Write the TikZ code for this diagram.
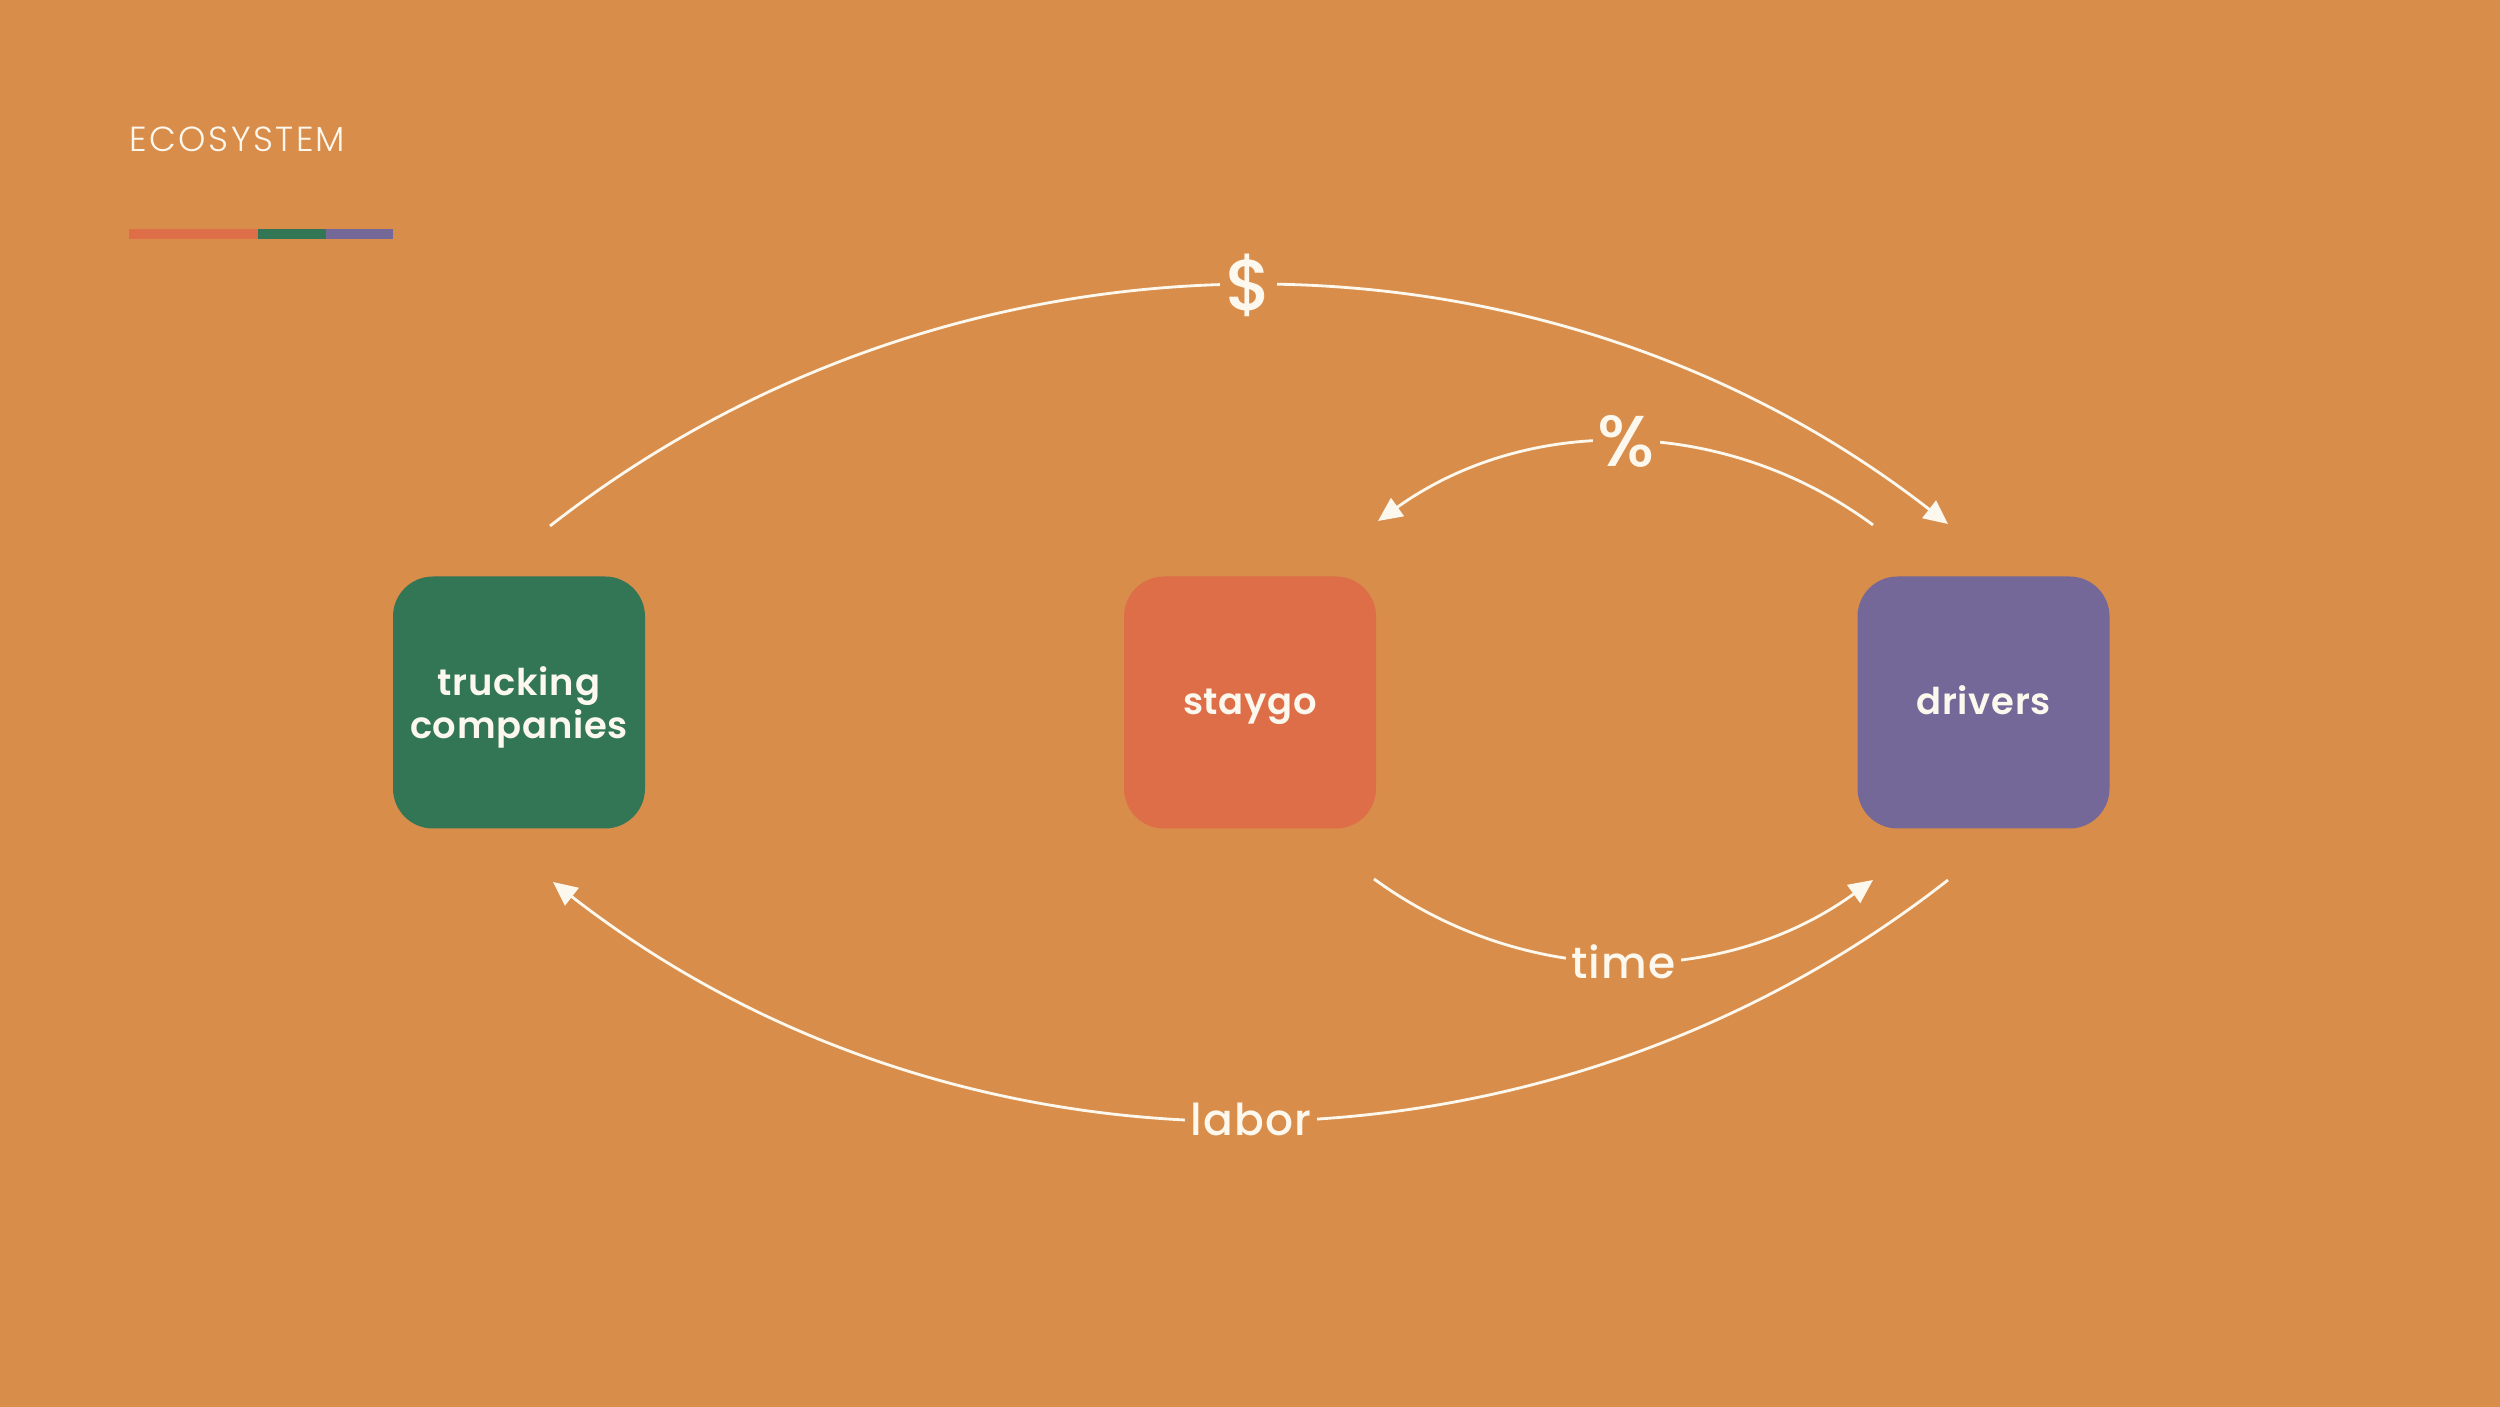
\documentclass[tikz,border=0pt]{standalone}
\usepackage{fontspec}
\usetikzlibrary{arrows.meta}

\newfontfamily\titlefont{Poppins Light}[LetterSpace=7]
\newfontfamily\boxfont{Poppins SemiBold}[LetterSpace=2]
\newfontfamily\arcfont{Poppins Medium}[LetterSpace=3]

\definecolor{bgorange}{HTML}{D98D4A}
\definecolor{truckgreen}{HTML}{327656}
\definecolor{staygored}{HTML}{DE6E48}
\definecolor{driverpurple}{HTML}{746898}
\definecolor{cream}{HTML}{FDF8EE}

\begin{document}
\begin{tikzpicture}
	[>={Triangle[length=0.24cm,width=0.22cm]},
	 box/.style={rounded corners=0.4cm, minimum size=2.52cm, inner sep=0pt, text=cream, align=center,
	   font=\boxfont\fontsize{10.5}{10.8}\selectfont},
	 oneline/.style={text height=7.5pt, text depth=0.7pt},
	 flow/.style={draw=cream, line width=0.8pt, looseness=0.95},
	 lbl/.style={fill=bgorange, text=cream, inner sep=0.05cm, font=\arcfont\fontsize{12.5}{12.5}\selectfont},
	 bigsym/.style={font=\arcfont\fontsize{20.5}{20.5}\selectfont}]
	\useasboundingbox (0,0) rectangle (25,-14.07);
	\fill[bgorange] (0,0) rectangle (25,-14.07);

	% heading and colour bar
	\node[anchor=base west, inner sep=0pt, text=cream, font=\titlefont\fontsize{9.9}{9.9}\selectfont] (title) at (1.29,-1.52) {ECOSYSTEM};
	\fill[staygored] (1.29,-2.29) rectangle (2.58,-2.39);
	\fill[truckgreen] (2.58,-2.29) rectangle (3.26,-2.39);
	\fill[driverpurple] (3.26,-2.29) rectangle (3.93,-2.39);

	\node[box, fill=truckgreen, text depth=0pt] (trucking) at (5.19,-7.025) {trucking\\companies};
	\node[box, oneline, fill=staygored] (staygo) at (12.5,-7.025) {staygo};
	\node[box, oneline, fill=driverpurple] (drivers) at (19.835,-7.025) {drivers};

	\coordinate (moneyA) at (5.50,-5.26);
	\coordinate (moneyB) at (19.48,-5.24);
	\coordinate (cutA) at (18.73,-5.25);
	\coordinate (cutB) at (13.78,-5.21);
	\coordinate (timeA) at (13.74,-8.79);
	\coordinate (timeB) at (18.73,-8.80);
	\coordinate (laborA) at (19.48,-8.80);
	\coordinate (laborB) at (5.53,-8.82);

	\draw[flow,->] (moneyA) to[bend left=38] node[lbl,bigsym] {\$} (moneyB);
	\draw[flow,->] (cutA) to[bend right=36] node[lbl,bigsym] {\%} (cutB);
	\draw[flow,->] (timeA) to[bend right=36] node[lbl] {time} (timeB);
	\draw[flow,->] (laborA) to[bend left=38] node[lbl] {labor} (laborB);
\end{tikzpicture}
\end{document}
